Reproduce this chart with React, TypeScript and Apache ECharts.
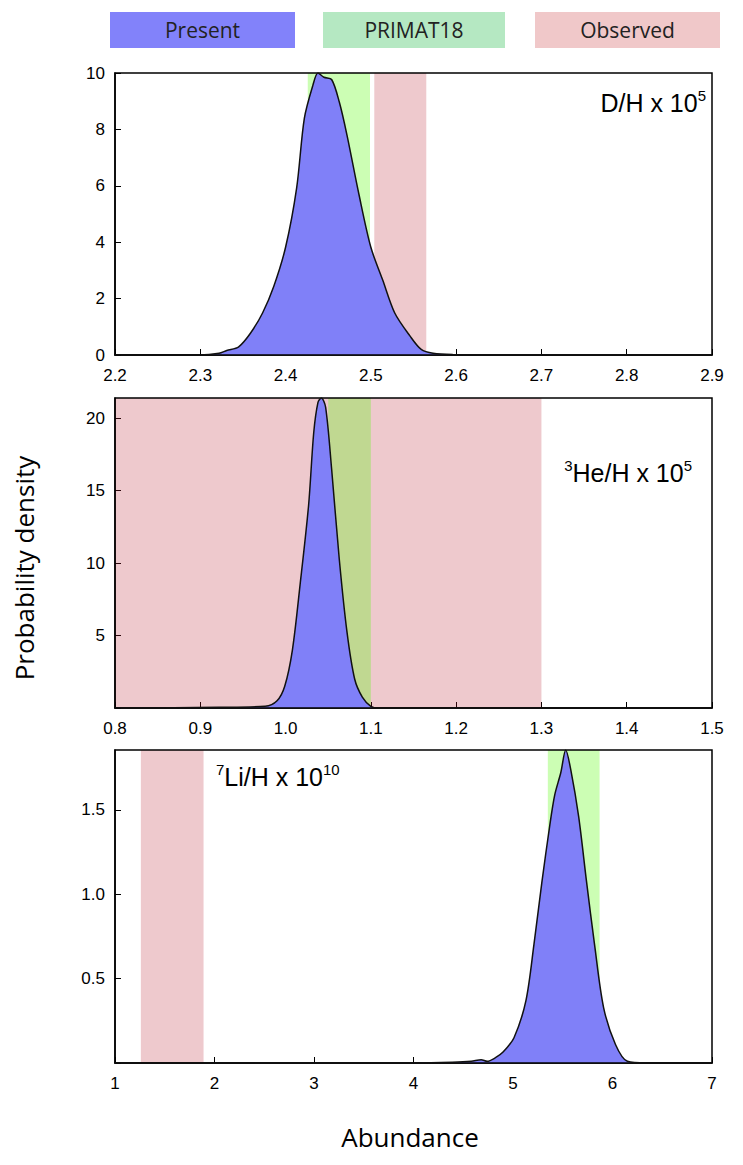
import React, { useEffect, useRef } from "react";
import * as echarts from "echarts";

// D/H x 1e5 posterior
const dhX = [2.2, 2.299, 2.322, 2.331, 2.345, 2.359, 2.373, 2.386, 2.4, 2.413, 2.422, 2.432, 2.438, 2.445, 2.454, 2.463, 2.472, 2.486, 2.5, 2.514, 2.528, 2.546, 2.559, 2.573, 2.596, 2.7, 2.9];
const dhY = [0, 0, 0.06, 0.16, 0.29, 0.78, 1.49, 2.42, 3.82, 5.93, 8.39, 9.56, 10, 9.85, 9.77, 8.97, 7.8, 5.7, 3.82, 2.65, 1.49, 0.67, 0.2, 0.06, 0.02, 0.01, 0];
// 3He/H x 1e5
const heX = [0.8, 0.922, 0.976, 0.99, 0.999, 1.008, 1.017, 1.027, 1.033, 1.038, 1.042, 1.047, 1.054, 1.063, 1.072, 1.081, 1.09, 1.1, 1.109, 1.5];
const heY = [0, 0.05, 0.12, 0.5, 1.5, 4, 8.5, 14, 19, 21.1, 21.4, 20.75, 16.5, 10.25, 5.25, 2, 0.75, 0.12, 0, 0];
// 7Li/H x 1e10
const liX = [1, 4.0, 4.39, 4.58, 4.68, 4.74, 4.82, 4.9, 5.01, 5.13, 5.21, 5.29, 5.37, 5.42, 5.48, 5.53, 5.58, 5.66, 5.74, 5.82, 5.91, 6.03, 6.15, 6.34, 7];
const liY = [0, 0, 0.004, 0.01, 0.02, 0.01, 0.03, 0.065, 0.15, 0.37, 0.7, 1.07, 1.41, 1.59, 1.72, 1.855, 1.74, 1.46, 1.07, 0.7, 0.33, 0.11, 0.01, 0, 0];

// bands [from, to]
const primatBands = [[2.426, 2.499], [1.05, 1.1], [5.35, 5.87]];
const observedBands = [[2.504, 2.565], [0.8, 1.3], [1.26, 1.89]];

const xRanges = [[2.2, 2.9, 0.1], [0.8, 1.5, 0.1], [1, 7, 1]];
const yRanges = [[0, 10, 2], [0, 21.4, 5], [0, 1.855, 0.5]];

const legendNames = ["Present", "PRIMAT18", "Observed"];

const BLUE = "#8080f8";
const GREEN = "rgba(89,252,13,0.31)";
const PINK = "rgba(182,28,48,0.24)";

const App: React.FC = () => {
  const ref = useRef<HTMLDivElement>(null);

  useEffect(() => {
    document.body.style.margin = "0";
    if (!ref.current) return;
    const chart = echarts.init(ref.current, undefined, { renderer: "svg" });

    const grids = [
      { left: 115, right: 31, top: 73, height: 282 },
      { left: 115, right: 31, top: 398, height: 310 },
      { left: 115, right: 31, top: 750, height: 313 },
    ].map(g => ({ ...g, show: true, borderColor: "#000", borderWidth: 1.5, z: 20 }));

    const curves = [
      dhX.map((x, i) => [x, dhY[i]]),
      heX.map((x, i) => [x, heY[i]]),
      liX.map((x, i) => [x, liY[i]]),
    ];

    const xAxis = xRanges.map(([min, max, interval], i) => ({
      type: "value",
      gridIndex: i,
      min,
      max,
      interval,
      axisLine: { lineStyle: { color: "#000", width: 1.5 } },
      axisTick: { inside: true, length: 6, lineStyle: { color: "#000" } },
      splitLine: { show: false },
      axisLabel: {
        color: "#000",
        fontSize: 17,
        fontFamily: "Liberation Sans",
        margin: 12,
        formatter: (v: number) => (i === 2 ? String(Math.round(v)) : v.toFixed(1)),
      },
    }));

    const yAxis = yRanges.map(([min, max, interval], i) => ({
      type: "value",
      gridIndex: i,
      min,
      max,
      interval,
      axisLine: { lineStyle: { color: "#000", width: 1.5 } },
      axisTick: { inside: true, length: 6, lineStyle: { color: "#000" } },
      splitLine: { show: false },
      axisLabel: {
        color: "#000",
        fontSize: 17,
        fontFamily: "Liberation Sans",
        margin: 10,
        showMaxLabel: i === 0,
        formatter: (v: number) => {
          if (i === 0) return String(v);
          if (v === 0) return "";
          return i === 2 ? v.toFixed(1) : String(v);
        },
      },
    }));

    const series: any[] = [];
    curves.forEach((data, i) => {
      series.push({
        type: "line",
        xAxisIndex: i,
        yAxisIndex: i,
        data,
        smooth: 0.3,
        symbol: "none",
        lineStyle: { width: 0 },
        areaStyle: { color: BLUE, opacity: 1 },
        z: 1,
      });
      series.push({
        type: "line",
        xAxisIndex: i,
        yAxisIndex: i,
        data: [],
        z: 10,
        zlevel: 1,
        markArea: {
          silent: true,
          data: [
            [{ xAxis: observedBands[i][0], itemStyle: { color: PINK } }, { xAxis: observedBands[i][1] }],
            [{ xAxis: primatBands[i][0], itemStyle: { color: GREEN } }, { xAxis: primatBands[i][1] }],
          ],
        },
      });
      series.push({
        type: "line",
        xAxisIndex: i,
        yAxisIndex: i,
        data,
        smooth: 0.3,
        symbol: "none",
        lineStyle: { color: "#111", width: 1.5 },
        z: 11,
        zlevel: 2,
      });
    });

    const legendColors = ["#8282fa", "#b5e8c2", "#f0c8c9"];
    const legendX = [110, 323, 535];
    const legendW = [185, 182, 185];
    const rich = {
      m: { fontSize: 25, fontFamily: "Liberation Sans", color: "#000", lineHeight: 30 },
      s: { fontSize: 15, fontFamily: "Liberation Sans", color: "#000", verticalAlign: "top", lineHeight: 30, padding: [0, 0, 12, 0] },
    };

    const graphic: any[] = [];
    legendNames.forEach((name, i) => {
      graphic.push({ type: "rect", shape: { x: legendX[i], y: 12, width: legendW[i], height: 36 }, style: { fill: legendColors[i] } });
      graphic.push({
        type: "text",
        x: legendX[i] + legendW[i] / 2,
        y: 30,
        style: { text: name, fontSize: 21, fontFamily: "Open Sans", fill: "#222", align: "center", verticalAlign: "middle" },
      });
    });
    graphic.push(
      { type: "text", x: 706, y: 88, zlevel: 3, style: { text: "{m|D/H x 10}{s|5}", rich, align: "right" } },
      { type: "text", x: 692, y: 458, zlevel: 3, style: { text: "{s|3}{m|He/H x 10}{s|5}", rich, align: "right" } },
      { type: "text", x: 216, y: 762, zlevel: 3, style: { text: "{s|7}{m|Li/H x 10}{s|10}", rich, align: "left" } },
      {
        type: "text",
        x: 24,
        y: 568,
        rotation: Math.PI / 2,
        style: { text: "Probability density", fontSize: 26, fontFamily: "Open Sans", fill: "#000", align: "center", verticalAlign: "middle" },
      },
      {
        type: "text",
        x: 410,
        y: 1137,
        style: { text: "Abundance", fontSize: 26, fontFamily: "Open Sans", fill: "#000", align: "center", verticalAlign: "middle" },
      }
    );

    chart.setOption({
      animation: false,
      grid: grids,
      xAxis,
      yAxis,
      series,
      graphic,
    });

    return () => chart.dispose();
  }, []);

  return <div ref={ref} style={{ width: 743, height: 1165 }} />;
};

export default App;
